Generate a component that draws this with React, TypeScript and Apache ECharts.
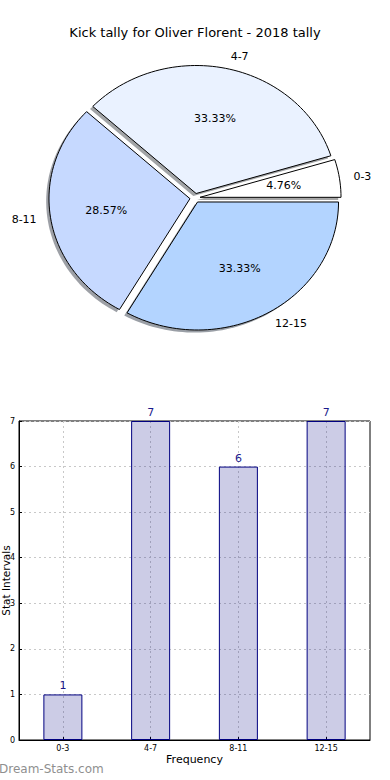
import React, { useEffect, useRef } from "react";
import * as echarts from "echarts";

const TITLE = "Kick tally for Oliver Florent - 2018 tally";
const categories = ["0-3", "4-7", "8-11", "12-15"];
const counts = [1, 7, 6, 7];
const pieColors = ["#ffffff", "#eaf2ff", "#c6d9ff", "#b3d4ff"];
const yTicks = { min: 0, max: 7, interval: 1 };
const xAxisTitle = "Frequency";
const yAxisTitle = "Stat Intervals";
const watermark = "Dream-Stats.com";

const FONT = "DejaVu Sans";

function hexToRgb(h: string) {
  const n = parseInt(h.slice(1), 16);
  return [(n >> 16) & 255, (n >> 8) & 255, n & 255];
}

export default function App() {
  const ref = useRef<HTMLDivElement>(null);
  useEffect(() => {
    if (!ref.current) return;
    const chart = echarts.init(ref.current, null, { renderer: "svg" });
    const total = counts.reduce((a, b) => a + b, 0);
    const CX = 195, CY = 198, RX = 141, RY = 128, EXP = 0.036;
    const SOX = -2.8, SOY = 2.6;

    const renderPie = (params: any, api: any) => {
      const i = params.dataIndex;
      let before = 0;
      for (let j = 0; j < i; j++) before += counts[j];
      const v = api.value(0);
      const a0 = (before / total) * Math.PI * 2;
      const a1 = ((before + v) / total) * Math.PI * 2;
      const mid = (a0 + a1) / 2;
      const cx = CX + EXP * RX * Math.cos(mid);
      const cy = CY - EXP * RY * Math.sin(mid);
      const pts: number[][] = [[cx, cy]];
      const n = Math.max(8, Math.ceil(((a1 - a0) / (Math.PI * 2)) * 200));
      for (let k = 0; k <= n; k++) {
        const a = a0 + ((a1 - a0) * k) / n;
        pts.push([cx + RX * Math.cos(a), cy - RY * Math.sin(a)]);
      }
      const sp = pts.map((p) => [p[0] + SOX, p[1] + SOY]);
      const rgb = hexToRgb(pieColors[i]);
      const sc = `rgba(${Math.round(rgb[0] * 0.3)},${Math.round(rgb[1] * 0.3)},${Math.round(rgb[2] * 0.3)},0.5)`;
      const cm = Math.cos(mid), sm = Math.sin(mid);
      const pct = ((v / total) * 100).toFixed(2) + "%";
      return {
        type: "group",
        children: [
          { type: "polygon", z2: 0, shape: { points: sp }, style: { fill: sc, stroke: "none" } },
          { type: "polygon", z2: 10, shape: { points: pts }, style: { fill: pieColors[i], stroke: "#000", lineWidth: 1 } },
          {
            type: "text", z2: 20,
            x: cx + 0.6 * RX * cm, y: cy - 0.6 * RY * sm,
            style: { text: pct, fill: "#000", fontSize: 11, fontFamily: FONT, align: "center", verticalAlign: "middle" },
          },
          {
            type: "text", z2: 20,
            x: cx + 1.1 * RX * cm, y: cy - 1.1 * RY * sm,
            style: { text: categories[i], fill: "#000", fontSize: 11, fontFamily: FONT, align: cm >= 0 ? "left" : "right", verticalAlign: "middle" },
          },
        ],
      };
    };

    chart.setOption({
      animation: false,
      backgroundColor: "#fff",
      textStyle: { fontFamily: FONT },
      title: {
        text: TITLE, left: "center", top: 21,
        textStyle: { fontSize: 13, fontWeight: "normal", fontFamily: FONT, color: "#000" },
      },
      graphic: [
        { type: "text", left: -1, top: 763, style: { text: watermark, fill: "#8f8f8f", fontSize: 12, fontFamily: FONT } },
      ],
      grid: {
        left: 19, right: 20, top: 421, bottom: 40, containLabel: false, outerBoundsMode: "none",
        show: true, borderColor: "#000", borderWidth: 1, backgroundColor: "transparent",
      },
      xAxis: {
        type: "category", data: categories, boundaryGap: true,
        name: xAxisTitle, nameLocation: "middle", nameGap: 14, nameMoveOverlap: false,
        nameTextStyle: { fontSize: 11, color: "#000", fontFamily: FONT },
        axisLine: { lineStyle: { color: "#000", width: 1 } },
        axisTick: { show: true, inside: true, length: 3, alignWithLabel: true, lineStyle: { color: "#000" } },
        axisLabel: { fontSize: 8, color: "#000", margin: 4, fontFamily: FONT },
        splitLine: { show: true, alignWithLabel: true, lineStyle: { color: "#c8c8c8", type: [2, 3], width: 1 } },
      },
      yAxis: {
        type: "value", min: yTicks.min, max: yTicks.max, interval: yTicks.interval,
        name: yAxisTitle, nameLocation: "middle", nameGap: 7.5, nameMoveOverlap: false,
        nameTextStyle: { fontSize: 10.5, color: "#000", fontFamily: FONT },
        axisLine: { show: true, lineStyle: { color: "#000", width: 1 } },
        axisTick: { show: true, inside: true, length: 3, lineStyle: { color: "#000" } },
        axisLabel: { fontSize: 8, color: "#000", margin: 4, fontFamily: FONT },
        splitLine: { show: true, lineStyle: { color: "#c8c8c8", type: [2, 3], width: 1 } },
      },
      series: [
        {
          type: "bar", data: counts, barWidth: 39,
          itemStyle: { color: "rgba(0,0,128,0.2)", borderColor: "#000080", borderWidth: 1 },
          label: { show: true, position: "top", distance: 3, color: "#1a1a8c", fontSize: 11, fontFamily: FONT },
        },
        {
          type: "custom", coordinateSystem: "none",
          data: counts.map((c) => [c]),
          renderItem: renderPie,
        },
      ],
    });
    return () => chart.dispose();
  }, []);
  return <div ref={ref} style={{ position: "absolute", left: 0, top: 0, width: 390, height: 780 }} />;
}
